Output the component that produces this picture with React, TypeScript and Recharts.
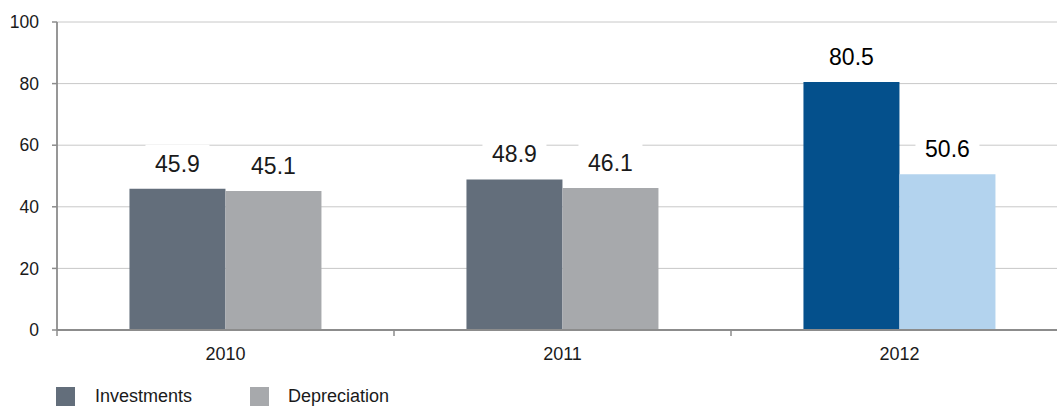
import React from "react";
import { BarChart, Bar, XAxis, YAxis, CartesianGrid, LabelList, Cell } from "recharts";

const years = ["2010", "2011", "2012"];
const investments = [45.9, 48.9, 80.5];
const depreciation = [45.1, 46.1, 50.6];
const yTicks = [0, 20, 40, 60, 80, 100];

const investColors = ["#636e7b", "#636e7b", "#04508c"];
const deprColors = ["#a7a9ac", "#a7a9ac", "#b3d3ee"];

const data = years.map((year, i) => ({
  year,
  investments: investments[i],
  depreciation: depreciation[i],
}));

const FONT = "'Liberation Sans', Arial, Helvetica, sans-serif";
const WIDTH = 1080;
const HEIGHT = 407;
const MARGIN = { top: 22, right: 12, left: 0, bottom: 47 };
const Y_WIDTH = 57;
const BAND = (WIDTH - MARGIN.left - MARGIN.right - Y_WIDTH) / years.length;

function YearTick(props: any) {
  const { x, y, payload, index } = props;
  const left = x - BAND / 2;
  const right = x + BAND / 2;
  return (
    <g>
      <line x1={left} y1={y} x2={left} y2={y + 6} stroke="#8c8c8c" strokeWidth={1.5} />
      {index === years.length - 1 && (
        <line x1={right} y1={y} x2={right} y2={y + 6} stroke="#8c8c8c" strokeWidth={1.5} />
      )}
      <text x={x} y={y + 17} dy="0.71em" textAnchor="middle" fontSize={18} fill="#1a1a1a" fontFamily={FONT}>
        {payload.value}
      </text>
    </g>
  );
}

function ValueLabel(props: any) {
  const { x, y, width, value, index } = props;
  const cx = x + width / 2;
  const cy = y - 25;
  return (
    <g>
      <rect x={cx - 32} y={cy - 19} width={64} height={36} fill="#fff" />
      <text
        x={cx}
        y={cy}
        dominantBaseline="central"
        textAnchor="middle"
        fontSize={23}
        fill={index === 2 ? "#000" : "#1a1a1a"}
        fontFamily={FONT}
      >
        {value.toFixed(1)}
      </text>
    </g>
  );
}

const legendItems = [
  { name: "Investments", color: investColors[0], left: 56, textLeft: 95 },
  { name: "Depreciation", color: deprColors[0], left: 250, textLeft: 288 },
];

export default function App() {
  return (
    <div
      style={{
        position: "absolute",
        left: 0,
        top: 0,
        width: 1057,
        height: 407,
        overflow: "hidden",
        background: "#fff",
        fontFamily: FONT,
      }}
    >
      <BarChart width={WIDTH} height={HEIGHT} data={data} margin={MARGIN} barCategoryGap="21.5%" barGap={0}>
        <CartesianGrid vertical={false} stroke="#c8c8c8" strokeWidth={1} />
        <XAxis
          dataKey="year"
          height={30}
          tickLine={false}
          tickSize={0}
          tickMargin={0}
          axisLine={{ stroke: "#8c8c8c", strokeWidth: 1.8 }}
          tick={<YearTick />}
          interval={0}
        />
        <YAxis
          width={Y_WIDTH}
          domain={[0, 100]}
          ticks={yTicks}
          interval={0}
          tickSize={5}
          tickMargin={13}
          tickLine={{ stroke: "#8c8c8c", strokeWidth: 1.5 }}
          axisLine={{ stroke: "#8c8c8c", strokeWidth: 1.8 }}
          tick={{ fontSize: 17.5, fill: "#1a1a1a", fontFamily: FONT }}
        />
        <Bar dataKey="investments" isAnimationActive={false}>
          {data.map((_, i) => (
            <Cell key={i} fill={investColors[i]} />
          ))}
          <LabelList dataKey="investments" content={<ValueLabel />} />
        </Bar>
        <Bar dataKey="depreciation" isAnimationActive={false}>
          {data.map((_, i) => (
            <Cell key={i} fill={deprColors[i]} />
          ))}
          <LabelList dataKey="depreciation" content={<ValueLabel />} />
        </Bar>
      </BarChart>
      {legendItems.map((item) => (
        <React.Fragment key={item.name}>
          <div
            style={{
              position: "absolute",
              left: item.left,
              top: 387,
              width: 19,
              height: 19,
              background: item.color,
            }}
          />
          <div
            style={{
              position: "absolute",
              left: item.textLeft,
              top: 386,
              fontSize: 18,
              lineHeight: "20px",
              color: "#1a1a1a",
              whiteSpace: "nowrap",
            }}
          >
            {item.name}
          </div>
        </React.Fragment>
      ))}
    </div>
  );
}
